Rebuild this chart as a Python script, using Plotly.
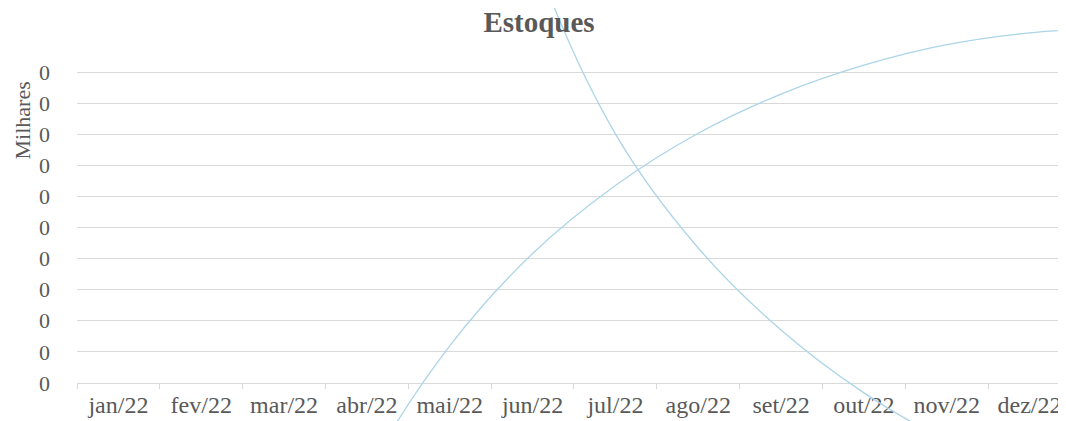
import plotly.graph_objects as go

# ---------------- data ----------------
meses = ["jan/22", "fev/22", "mar/22", "abr/22", "mai/22", "jun/22",
         "jul/22", "ago/22", "set/22", "out/22", "nov/22", "dez/22", "jan/23"]
# values in units (axis shows them in "Milhares"); jan/23 lies beyond the cropped right edge
serie_subida = [-277, -167, -87, -29, 11.9, 41.6, 63.5, 80.3, 92.9, 102.2, 108.8, 112.6, 114.2]
serie_descida = [1900, 1150, 680, 401, 237, 139, 80.1, 43.4, 17.0, -3.2, -18.7, -30.6, -40.0]
y_ticks = [0, 10, 20, 30, 40, 50, 60, 70, 80, 90, 100]

# ---------------- layout geometry ----------------
# the page body adds an 8px margin, so the figure is drawn 8px smaller and offset
OFF = 8
W, H = 1066 - OFF, 421 - OFF
PL = 77 - OFF          # left edge of plot area (px)
PB = 382.9 - OFF       # y pixel of axis (value 0)
PT = 72 - OFF          # y pixel of top gridline
PAD_TOP = 3            # extra px above the top gridline so it is drawn
X_RANGE = [-0.5, 11.44]

px_y = (y_ticks[-1] - y_ticks[0]) / 1000 / (PB - PT)
Y_RANGE = [y_ticks[0] / 1000, y_ticks[-1] / 1000 + PAD_TOP * px_y]
px_x = (X_RANGE[1] - X_RANGE[0]) / (W - PL)
X2_RANGE = [X_RANGE[0] - PL * px_x, X_RANGE[1]]
Y2_RANGE = [Y_RANGE[0] - (H - PB) * px_y, y_ticks[-1] / 1000 + PT * px_y]

FONT = "Liberation Serif, Times New Roman, serif"
TXT = "#595959"
GRID = "#d9d9d9"
LINE = "#acd4e8"

fig = go.Figure()

# helper trace to register categories on visible axis
fig.add_trace(go.Scatter(x=meses, y=[None] * len(meses), mode="markers",
                         marker=dict(opacity=0), hoverinfo="skip",
                         showlegend=False, xaxis="x", yaxis="y"))

for nome, serie in [("Estoque A", serie_subida), ("Estoque B", serie_descida)]:
    fig.add_trace(go.Scatter(
        x=meses, y=[v / 1000 for v in serie], name=nome,
        mode="lines", line=dict(color=LINE, width=1.3, shape="spline", smoothing=1),
        xaxis="x2", yaxis="y2", showlegend=False))

fig.update_layout(
    template="none",
    width=W, height=H,
    margin=dict(l=0, r=0, t=0, b=0, pad=0),
    paper_bgcolor="white", plot_bgcolor="rgba(0,0,0,0)",
    font=dict(family=FONT, color=TXT, size=22),
    showlegend=False,
    title=dict(text="Estoques", x=(539 - OFF) / W, xanchor="center",
               y=1 - 4 / H, yanchor="top", automargin=False, pad=dict(t=0, b=0),
               font=dict(family=FONT, size=29, color=TXT, weight="bold")),
    xaxis=dict(domain=[PL / W, 1], type="category", categoryorder="array",
               categoryarray=meses, range=X_RANGE, showgrid=False,
               showline=True, linecolor=GRID, linewidth=1,
               ticks="outside", ticklen=5, tickcolor=GRID, tickwidth=1,
               tickson="boundaries", zeroline=False, anchor="y",
               automargin=False,
               tickfont=dict(family=FONT, size=24, color=TXT)),
    yaxis=dict(domain=[(H - PB) / H, (H - PT + PAD_TOP) / H], range=Y_RANGE,
               tickmode="array", tickvals=[t / 1000 for t in y_ticks],
               tickformat=".0f", showgrid=True, gridcolor=GRID, gridwidth=1,
               zeroline=False, showline=False, ticks="", anchor="x",
               ticklabelstandoff=26, automargin=False,
               tickfont=dict(family=FONT, size=22, color=TXT)),
    xaxis2=dict(domain=[0, 1], type="category", categoryorder="array",
                categoryarray=meses, range=X2_RANGE, visible=False,
                anchor="y2", automargin=False),
    yaxis2=dict(domain=[0, 1], range=Y2_RANGE, visible=False, anchor="x2",
                automargin=False),
    annotations=[dict(text="Milhares", textangle=-90, xref="paper", yref="paper",
                      x=0, y=1 - (121 - OFF) / H,
                      xanchor="left", yanchor="middle",
                      showarrow=False, font=dict(family=FONT, size=22, color=TXT))],
)

fig.write_html("out.html")
